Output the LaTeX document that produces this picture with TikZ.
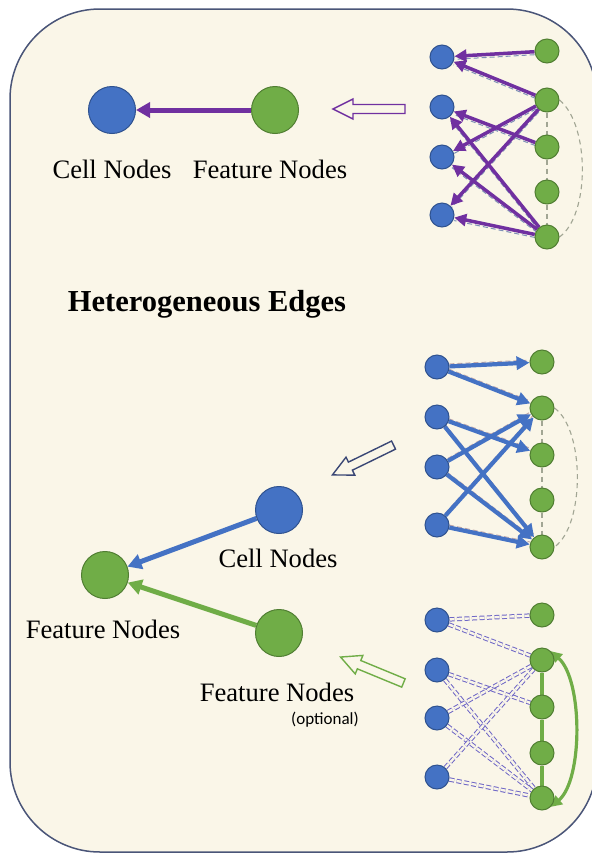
\documentclass[tikz,border=0pt]{standalone}
\usepackage{fontspec}
\setmainfont{Liberation Serif}
\newfontfamily\notefont{Carlito}
\usetikzlibrary{arrows.meta}
\pgfdeclarelayer{panel}
\pgfdeclarelayer{edges}
\pgfsetlayers{panel,edges,main}

\definecolor{cream}{HTML}{FAF6E8}
\definecolor{framecol}{HTML}{4A5578}
\definecolor{cellblue}{HTML}{4472C4}
\definecolor{cellrim}{HTML}{2F528F}
\definecolor{featgreen}{HTML}{70AD47}
\definecolor{featrim}{HTML}{507E32}
\definecolor{edgepurple}{HTML}{7030A0}
\definecolor{linkgray}{HTML}{A2A694}
\definecolor{ghostblue}{HTML}{7F90B6}
\definecolor{ghostrose}{HTML}{C2A9A9}
\definecolor{pairviolet}{HTML}{6E66C6}
\definecolor{navy}{HTML}{3A4775}

\begin{document}
\begin{tikzpicture}[x=1pt,y=-1pt,
  cell/.style={circle, fill=cellblue, draw=cellrim, line width=1pt, minimum size=24pt, inner sep=0pt},
  feat/.style={circle, fill=featgreen, draw=featrim, line width=1pt, minimum size=24pt, inner sep=0pt},
  bigcell/.style={cell, minimum size=47pt},
  bigfeat/.style={feat, minimum size=47pt},
  lbl/.style={font=\fontsize{26.6}{30}\selectfont, anchor=base, inner sep=0pt},
  title/.style={font=\fontsize{30.5}{34}\selectfont\bfseries, anchor=base, inner sep=0pt},
  note/.style={font=\fontsize{17}{20}\selectfont\notefont, anchor=base, inner sep=0pt},
  parr/.style={edgepurple, line width=3.5pt, -{Triangle[length=12pt,width=12pt]}},
  barr/.style={cellblue, line width=4.2pt, -{Triangle[length=13pt,width=13pt]}},
  bigparr/.style={edgepurple, line width=5pt, -{Triangle[length=14pt,width=15pt]}},
  bigbarr/.style={cellblue, line width=5pt, -{Triangle[length=14pt,width=15pt]}},
  biggarr/.style={featgreen, line width=5pt, -{Triangle[length=14pt,width=15pt]}},
  ghostline/.style={line width=1pt, dash pattern=on 5pt off 3pt},
  linkdash/.style={linkgray, line width=1.1pt, dash pattern=on 5pt off 4pt},
  pairline/.style={draw=pairviolet, line width=1pt, double=cream, double distance=2.4pt, dash pattern=on 5pt off 2.5pt},
  hollow/.style={line width=1.4pt, line join=miter, fill=cream}
]
\path[use as bounding box] (0,0) rectangle (592,855);
\clip (0,0) rectangle (592,855);

\begin{pgfonlayer}{panel}
  \draw[framecol, line width=1.5pt, fill=cream, rounded corners=90pt] (10,9) rectangle (597,852);
\end{pgfonlayer}

% ---------- upper graph: feature -> cell ----------
\foreach \i/\y in {1/57, 2/107, 3/157, 4/215} \node[cell] (tb\i) at (442,\y) {};
\foreach \i/\y in {1/51, 2/100, 3/147, 4/192, 5/237} \node[feat] (tg\i) at (547,\y) {};

% ---------- middle graph: cell -> feature ----------
\foreach \i/\y in {1/367, 2/417, 3/467, 4/525} \node[cell] (mb\i) at (437,\y) {};
\foreach \i/\y in {1/362, 2/408, 3/455, 4/500, 5/547} \node[feat] (mg\i) at (542,\y) {};

% ---------- lower graph: feature -- feature ----------
\foreach \i/\y in {1/620, 2/670, 3/718, 4/777} \node[cell] (bb\i) at (437,\y) {};
\foreach \i/\y in {1/615, 2/660, 3/707, 4/753, 5/798} \node[feat] (bg\i) at (542,\y) {};

% ---------- summary nodes ----------
\node[bigcell] (c1) at (112,110) {};
\node[bigfeat] (f1) at (275,110) {};
\node[lbl] (c1t) at (112,178) {Cell Nodes};
\node[lbl] (f1t) at (270,178) {Feature Nodes};

\node[title] (head) at (207,311) {Heterogeneous Edges};

\node[bigcell] (c2) at (279,510) {};
\node[bigfeat] (f2) at (105,575) {};
\node[bigfeat] (f3) at (279,633) {};
\node[lbl] (c2t) at (278,567) {Cell Nodes};
\node[lbl] (f2t) at (103,638) {Feature Nodes};
\node[lbl] (f3t) at (277,701) {Feature Nodes};
\node[note] (opt) at (325,724) {(optional)};

\begin{pgfonlayer}{edges}
  % upper graph
  \foreach \a/\b in {tg1/tb1, tg2/tb1, tg2/tb3, tg2/tb4, tg3/tb2, tg5/tb2, tg5/tb3, tg5/tb4}
    \draw[ghostline, ghostblue, transform canvas={yshift=-3pt}] (\a) -- (\b);
  \foreach \a/\b in {tg2/tg3, tg3/tg4, tg4/tg5} \draw[linkdash] (\a) -- (\b);
  \draw[linkdash] (tg2.east) .. controls (590,125) and (590,215) .. (tg5.east);
  \foreach \a/\b in {tg1/tb1, tg2/tb1, tg2/tb3, tg2/tb4, tg3/tb2, tg5/tb2, tg5/tb3, tg5/tb4}
    \draw[parr] (\a) -- (\b);

  % middle graph
  \foreach \a/\b in {mb1/mg1, mb1/mg2, mb2/mg3, mb2/mg5, mb3/mg2, mb3/mg5, mb4/mg2, mb4/mg5}
    \draw[ghostline, ghostrose, transform canvas={yshift=2.5pt}] (\a) -- (\b);
  \foreach \a/\b in {mg2/mg3, mg3/mg4, mg4/mg5} \draw[linkdash] (\a) -- (\b);
  \draw[linkdash] (mg2.east) .. controls (585,430) and (585,525) .. (mg5.east);
  \foreach \a/\b in {mb1/mg1, mb1/mg2, mb2/mg3, mb2/mg5, mb3/mg2, mb3/mg5, mb4/mg2, mb4/mg5}
    \draw[barr] (\a) -- (\b);

  % lower graph
  \foreach \a/\b in {bb1/bg1, bb1/bg2, bb2/bg3, bb2/bg5, bb3/bg2, bb3/bg5, bb4/bg2, bb4/bg5}
    \draw[pairline] (\a) -- (\b);
  \foreach \a/\b in {bg2/bg3, bg3/bg4, bg4/bg5} \draw[featgreen, line width=3.8pt] (\a) -- (\b);
  \draw[featgreen, line width=3.2pt, {Triangle[length=11pt,width=11pt]}-{Triangle[length=11pt,width=11pt]}]
    (bg2.north east) .. controls (583,680) and (583,780) .. (bg5.south east);

  % summary connectors
  \draw[bigparr] (f1) -- (c1);
  \draw[bigbarr] (c2) -- (f2);
  \draw[biggarr] (f3) -- (f2);
\end{pgfonlayer}

% ---------- hollow arrows ----------
\begin{scope}[shift={(369,109)}, rotate=180]
  \draw[hollow, draw=edgepurple] (-36,-4.5) -- (16,-4.5) -- (16,-10) -- (36,0) -- (16,10) -- (16,4.5) -- (-36,4.5) -- cycle;
\end{scope}
\begin{scope}[shift={(363,460)}, rotate=206]
  \draw[hollow, draw=navy] (-34,-4.5) -- (14,-4.5) -- (14,-10) -- (34,0) -- (14,10) -- (14,4.5) -- (-34,4.5) -- cycle;
\end{scope}
\begin{scope}[shift={(372,670)}, rotate=157.6]
  \draw[hollow, draw=featgreen] (-34,-4.5) -- (14,-4.5) -- (14,-10) -- (34,0) -- (14,10) -- (14,4.5) -- (-34,4.5) -- cycle;
\end{scope}
\end{tikzpicture}
\end{document}
